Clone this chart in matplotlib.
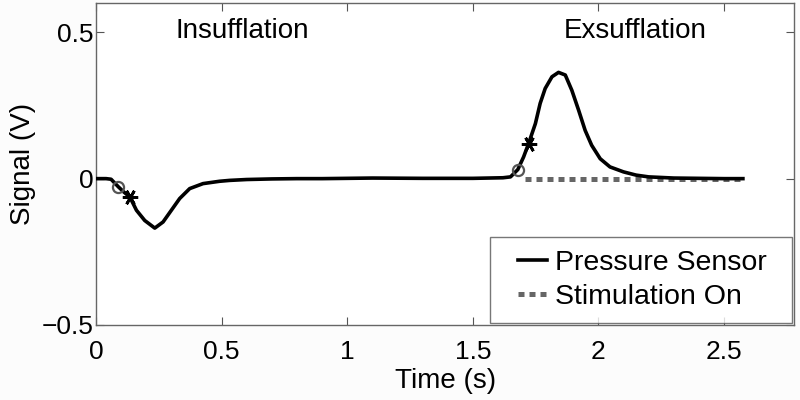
import matplotlib
matplotlib.use("Agg")
import matplotlib.pyplot as plt
from matplotlib.legend_handler import HandlerLine2D

# ---- data ----
time_s = [0, 0.04, 0.06, 0.089, 0.11, 0.135, 0.161, 0.194, 0.234, 0.267, 0.300, 0.333,
          0.373, 0.426, 0.492, 0.532, 0.6, 0.7, 0.8, 0.9, 1.1, 1.3, 1.5, 1.62, 1.65,
          1.679, 1.702, 1.722, 1.749, 1.768, 1.788, 1.815, 1.841, 1.868, 1.894, 1.921,
          1.947, 1.973, 2.007, 2.046, 2.1, 2.15, 2.2, 2.3, 2.4, 2.5, 2.575]
pressure_v = [0, 0, -0.002, -0.028, -0.045, -0.063, -0.108, -0.143, -0.169, -0.148,
              -0.108, -0.068, -0.034, -0.017, -0.009, -0.006, -0.003, -0.001, 0, 0,
              0.002, 0.001, 0.001, 0.003, 0.006, 0.031, 0.074, 0.120, 0.188, 0.257,
              0.308, 0.348, 0.363, 0.354, 0.302, 0.234, 0.165, 0.114, 0.068, 0.040,
              0.023, 0.012, 0.006, 0.002, 0.001, 0, 0]
stim_t = [1.706, 2.575]
stim_v = [0, 0]
circle_t = [0.089, 1.679]
circle_v = [-0.028, 0.031]
star_t = [0.135, 1.722]
star_v = [-0.063, 0.120]
labels = ["Insufflation", "Exsufflation"]
label_t = [0.583, 2.147]
label_v = [0.503, 0.503]
xticks = [0, 0.5, 1, 1.5, 2, 2.5]
xticklabels = ["0", "0.5", "1", "1.5", "2", "2.5"]
yticks = [-0.5, 0, 0.5]
yticklabels = ["\u22120.5", "0", "0.5"]

plt.rcParams['font.family'] = ['Liberation Sans', 'DejaVu Sans']
fig = plt.figure(figsize=(8, 4), dpi=100, facecolor='#fcfcfc')
ax = fig.add_axes([0.12, 0.1875, 0.873, 0.805])
ax.set_facecolor('white')

ax.plot(time_s, pressure_v, color='black', lw=2.6, label='Pressure Sensor', zorder=3)
ax.plot(stim_t, stim_v, color='#666666', lw=3.6, linestyle=(0, (1.2, 1.0)),
        label='Stimulation On', zorder=2)
ax.plot(circle_t, circle_v, linestyle='none', marker='o', ms=8, mfc='none',
        mec='#555555', mew=1.6, zorder=4)
ax.plot(star_t, star_v, linestyle='none', marker=(6, 2, 90), ms=11,
        color='black', mew=2.0, zorder=4)

for s, x, y in zip(labels, label_t, label_v):
    ax.text(x, y, s, ha='center', va='center', fontsize=20)

ax.set_xlim(0, 2.78)
ax.set_ylim(-0.5, 0.6)
ax.set_xticks(xticks)
ax.set_xticklabels(xticklabels)
ax.set_yticks(yticks)
ax.set_yticklabels(yticklabels)
ax.tick_params(direction='in', top=True, right=True, labelsize=19, length=6,
               color='#555555')
ax.tick_params(axis='x', pad=11)
ax.tick_params(axis='y', pad=2)
for sp in ax.spines.values():
    sp.set_color('#666666')
    sp.set_linewidth(1.0)
ax.set_xlabel('Time (s)', fontsize=20, labelpad=3)
ax.set_ylabel('Signal (V)', fontsize=20, labelpad=4)

hmap = {ln: HandlerLine2D(xpad=0.55) for ln in ax.get_lines()[:2]}
leg = ax.legend(loc='lower left', bbox_to_anchor=(0.564, 0.006, 0.4326, 0.1),
                mode='expand', fontsize=20.5, frameon=True, fancybox=False,
                edgecolor='#555555', handlelength=1.55, handletextpad=0.3,
                borderaxespad=0.0, labelspacing=0.3, borderpad=0.45,
                handler_map=hmap)
leg.get_frame().set_linewidth(1.0)

fig.savefig('out.png', dpi=100, facecolor=fig.get_facecolor())
